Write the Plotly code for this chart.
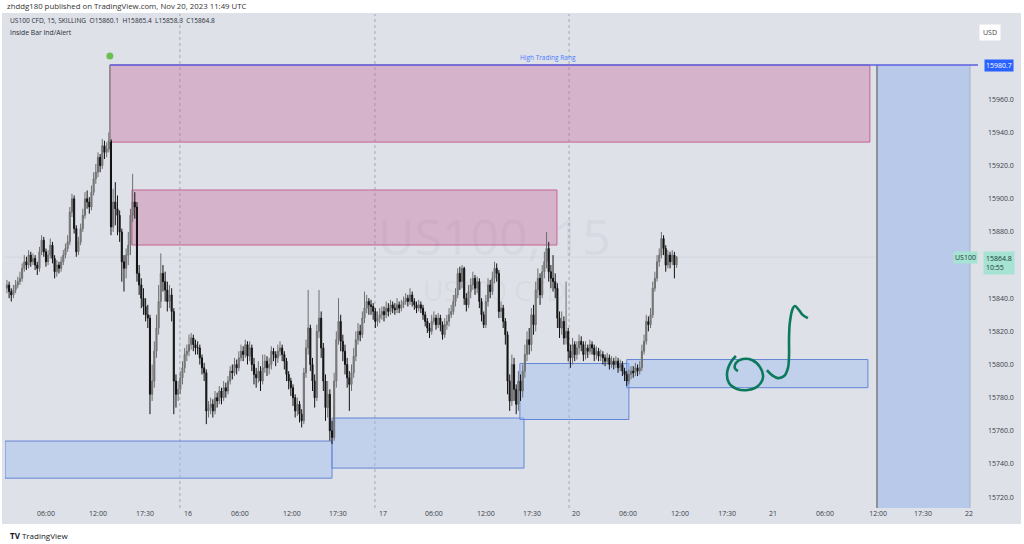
import plotly.graph_objects as go

# ---------------- data (15-min US100 CFD bars, Nov 15 -> Nov 20 2023) ----------------
first_open = 15846
closes = [
    15848, 15844, 15842, 15845, 15848, 15850, 15852, 15858, 15862, 15860,
    15866, 15862, 15864, 15860, 15858, 15868, 15875, 15868, 15862, 15866,
    15872, 15864, 15856, 15860, 15858, 15862, 15866, 15870, 15874, 15892,
    15900, 15882, 15868, 15874, 15882, 15890, 15900, 15898, 15895, 15904,
    15912, 15916, 15925, 15920, 15932, 15928, 15930, 15935, 15883, 15898,
    15894, 15890, 15880, 15862, 15858, 15866, 15872, 15890, 15898, 15895,
    15855, 15848, 15840, 15835, 15830, 15828, 15782, 15790, 15808, 15822,
    15838, 15855, 15850, 15845, 15838, 15842, 15832, 15790, 15782, 15785,
    15792, 15798, 15806, 15808, 15812, 15816, 15812, 15810, 15810, 15804,
    15798, 15795, 15772, 15774, 15776, 15772, 15780, 15778, 15784, 15780,
    15786, 15784, 15790, 15796, 15795, 15800, 15798, 15804, 15808, 15806,
    15812, 15805, 15810, 15800, 15794, 15792, 15796, 15790, 15798, 15802,
    15798, 15800, 15808, 15806, 15804, 15808, 15810, 15806, 15802, 15794,
    15790, 15786, 15780, 15772, 15776, 15770, 15766, 15795, 15810, 15822,
    15800, 15790, 15780, 15820, 15828, 15810, 15790, 15774, 15782, 15760,
    15756, 15790, 15815, 15826, 15814, 15808, 15800, 15792, 15788, 15795,
    15805, 15815, 15820, 15818, 15828, 15834, 15838, 15836, 15835, 15832,
    15826, 15828, 15830, 15832, 15830, 15834, 15832, 15836, 15834, 15833,
    15836, 15834, 15836, 15838, 15840, 15838, 15842, 15838, 15836, 15834,
    15836, 15834, 15830, 15826, 15822, 15820, 15826, 15828, 15824, 15828,
    15824, 15818, 15824, 15826, 15830, 15832, 15838, 15842, 15855, 15850,
    15858, 15840, 15836, 15844, 15848, 15852, 15846, 15850, 15838, 15830,
    15824, 15838, 15848, 15844, 15852, 15858, 15855, 15832, 15834, 15826,
    15818, 15790, 15778, 15800, 15785, 15776, 15790, 15784, 15796, 15806,
    15815, 15812, 15830, 15824, 15845, 15852, 15842, 15856, 15862, 15870,
    15856, 15852, 15850, 15846, 15828, 15822, 15826, 15816, 15820, 15808,
    15804, 15812, 15806, 15810, 15814, 15812, 15806, 15810, 15808, 15812,
    15810, 15806, 15808, 15805, 15806, 15804, 15802, 15804, 15800, 15802,
    15800, 15802, 15798, 15800, 15796, 15794, 15790, 15794, 15796, 15795,
    15798, 15796, 15798, 15808, 15814, 15826, 15824, 15830, 15846, 15852,
    15862, 15866, 15876, 15870, 15860, 15866, 15862, 15866, 15860.1, 15864.8,
]
highs = [
    15851, 15850, 15846, 15848, 15851, 15853, 15856, 15861, 15866, 15865,
    15869, 15868, 15867, 15866, 15862, 15871, 15878, 15877, 15870, 15869,
    15876, 15874, 15866, 15863, 15862, 15865, 15869, 15873, 15878, 15895,
    15903, 15902, 15884, 15877, 15885, 15894, 15904, 15905, 15901, 15908,
    15916, 15921, 15928, 15927, 15936, 15935, 15934, 15940, 15936, 15906,
    15910, 15902, 15893, 15882, 15866, 15870, 15880, 15894, 15915, 15904,
    15898, 15860, 15852, 15846, 15840, 15836, 15830, 15800, 15814, 15830,
    15848, 15867, 15860, 15856, 15850, 15848, 15846, 15834, 15794, 15790,
    15796, 15802, 15810, 15812, 15818, 15819, 15818, 15815, 15814, 15812,
    15806, 15801, 15797, 15778, 15780, 15779, 15784, 15783, 15787, 15786,
    15790, 15789, 15793, 15799, 15800, 15804, 15803, 15808, 15812, 15811,
    15815, 15814, 15814, 15812, 15804, 15798, 15802, 15799, 15806, 15806,
    15805, 15804, 15811, 15810, 15808, 15812, 15814, 15812, 15808, 15804,
    15796, 15792, 15788, 15782, 15780, 15778, 15773, 15798, 15815, 15845,
    15824, 15804, 15794, 15824, 15845, 15832, 15813, 15794, 15790, 15785,
    15766, 15795, 15820, 15840, 15830, 15818, 15812, 15804, 15796, 15800,
    15810, 15820, 15825, 15824, 15832, 15844, 15842, 15840, 15839, 15837,
    15834, 15832, 15834, 15835, 15835, 15838, 15837, 15839, 15838, 15837,
    15840, 15838, 15839, 15841, 15843, 15842, 15846, 15844, 15840, 15838,
    15839, 15838, 15836, 15832, 15828, 15825, 15830, 15832, 15830, 15831,
    15830, 15826, 15828, 15830, 15834, 15836, 15842, 15846, 15858, 15859,
    15860, 15859, 15843, 15848, 15852, 15856, 15854, 15853, 15852, 15840,
    15832, 15842, 15852, 15851, 15856, 15862, 15861, 15857, 15838, 15836,
    15828, 15820, 15794, 15806, 15804, 15788, 15796, 15794, 15800, 15812,
    15820, 15822, 15834, 15836, 15850, 15858, 15855, 15860, 15868, 15880,
    15874, 15860, 15866, 15855, 15849, 15832, 15832, 15829, 15850, 15822,
    15812, 15816, 15814, 15814, 15818, 15817, 15814, 15814, 15812, 15815,
    15814, 15812, 15811, 15810, 15809, 15808, 15806, 15807, 15806, 15805,
    15804, 15805, 15804, 15803, 15802, 15798, 15796, 15797, 15799, 15799,
    15801, 15800, 15802, 15812, 15818, 15830, 15829, 15834, 15850, 15856,
    15866, 15870, 15880, 15878, 15872, 15869, 15868, 15869, 15868, 15865.4,
]
lows = [
    15843, 15840, 15838, 15840, 15843, 15846, 15848, 15850, 15856, 15857,
    15858, 15859, 15860, 15857, 15854, 15856, 15866, 15865, 15859, 15860,
    15864, 15861, 15852, 15853, 15855, 15856, 15860, 15864, 15868, 15872,
    15889, 15879, 15865, 15866, 15872, 15880, 15888, 15894, 15891, 15893,
    15902, 15909, 15913, 15916, 15918, 15924, 15925, 15928, 15878, 15880,
    15884, 15878, 15874, 15850, 15844, 15852, 15860, 15866, 15886, 15888,
    15850, 15842, 15834, 15830, 15826, 15822, 15770, 15778, 15786, 15804,
    15818, 15834, 15844, 15838, 15832, 15834, 15826, 15770, 15774, 15778,
    15782, 15788, 15795, 15802, 15805, 15809, 15808, 15806, 15806, 15800,
    15794, 15790, 15764, 15768, 15770, 15768, 15770, 15774, 15776, 15776,
    15778, 15780, 15782, 15788, 15791, 15793, 15794, 15796, 15802, 15802,
    15804, 15800, 15802, 15796, 15788, 15786, 15789, 15784, 15788, 15795,
    15793, 15794, 15797, 15802, 15799, 15801, 15805, 15802, 15797, 15790,
    15785, 15781, 15775, 15768, 15769, 15765, 15762, 15764, 15792, 15806,
    15796, 15784, 15774, 15778, 15816, 15804, 15784, 15766, 15768, 15754,
    15752, 15754, 15786, 15812, 15808, 15802, 15794, 15786, 15772, 15784,
    15792, 15802, 15812, 15814, 15816, 15825, 15831, 15830, 15830, 15827,
    15822, 15823, 15825, 15827, 15826, 15828, 15829, 15830, 15831, 15830,
    15831, 15831, 15832, 15834, 15836, 15835, 15836, 15835, 15833, 15831,
    15832, 15831, 15827, 15823, 15819, 15816, 15818, 15824, 15821, 15822,
    15820, 15815, 15816, 15821, 15823, 15828, 15830, 15835, 15840, 15845,
    15846, 15836, 15832, 15834, 15840, 15845, 15842, 15843, 15834, 15826,
    15822, 15822, 15835, 15840, 15842, 15849, 15850, 15828, 15828, 15822,
    15812, 15782, 15772, 15775, 15778, 15770, 15772, 15778, 15780, 15792,
    15802, 15806, 15808, 15818, 15820, 15840, 15836, 15840, 15852, 15858,
    15850, 15846, 15844, 15840, 15822, 15816, 15818, 15812, 15812, 15802,
    15798, 15800, 15802, 15803, 15806, 15808, 15802, 15803, 15804, 15806,
    15806, 15802, 15803, 15802, 15802, 15800, 15799, 15800, 15797, 15798,
    15797, 15798, 15795, 15796, 15793, 15790, 15787, 15788, 15791, 15792,
    15793, 15793, 15794, 15796, 15806, 15812, 15820, 15822, 15828, 15844,
    15850, 15859, 15864, 15866, 15856, 15858, 15858, 15860, 15852, 15858.3,
]
opens = [first_open] + closes[:-1]
bar_index = list(range(len(closes)))

# time axis (bar-index positions of the labels)
time_tick_pos = [18, 42, 63.7, 83.5, 107.5, 131.5, 152.7, 173.5, 197, 221,
                 242.3, 262.6, 286.6, 310.6, 332.3, 353.5, 377.5, 402, 422.7, 444]
time_tick_text = ["06:00", "12:00", "17:30", "16", "06:00", "12:00", "17:30", "17",
                  "06:00", "12:00", "17:30", "20", "06:00", "12:00", "17:30", "21",
                  "06:00", "12:00", "17:30", "22"]
session_breaks = [79.8, 169.8, 259.4]
price_ticks = [15720, 15740, 15760, 15780, 15800, 15820, 15840,
               15880, 15900, 15920, 15940, 15960]

# drawn zones: (x0, x1, y0, y1) in bar index / price
supply_zones = [(47.5, 398.2, 15934.2, 15980.7),
                (57.7, 253.8, 15872.1, 15905.3)]
demand_zones = [(-0.9, 150.0, 15731.4, 15753.8),
                (150.0, 238.6, 15737.5, 15767.7),
                (236.7, 287.0, 15766.8, 15800.6),
                (286.0, 397.3, 15786.0, 15803.0)]
projection_zone = (401.5, 444.4, 15690.0, 15980.7)
high_range_level = 15980.7
high_range_start = 47.5
signal_dot = (47.5, 15986.1)
last_price = 15864.8

# hand-drawn green sketch (bar index, price)
loop_x = [336.4, 334.1, 332.3, 333.2, 336.9, 341.9, 346.6, 348.9, 347.5, 343.8, 339.6, 336.4, 335.9, 337.3]
loop_y = [15805.1, 15801.5, 15794.8, 15788.8, 15785.2, 15784.6, 15787.0, 15792.4, 15798.4, 15802.7, 15803.3, 15800.9, 15797.8, 15796.0]
hook_x = [350.7, 353.0, 355.8, 358.6, 360.4, 360.9, 360.9, 361.3, 362.7, 363.6, 365.5, 367.3, 369.6]
hook_y = [15796.6, 15793.6, 15791.8, 15793.0, 15797.8, 15805.7, 15815.9, 15825.6, 15834.0, 15835.3, 15832.8, 15829.8, 15828.0]

# ---------------- figure ----------------
W, H = 1024, 544
ML, MR, MT, MB = 5, 46, 14, 36
PANE = "#dee1e8"
XR = [-0.9, 448.1]
YR = [15713.4, 16011.5]


def px(xp):
    return (xp - ML) / (W - ML - MR)


def py(yp):
    return (H - MB - yp) / (H - MT - MB)


fig = go.Figure()
fig.add_trace(go.Candlestick(
    x=bar_index, open=opens, high=highs, low=lows, close=closes,
    increasing=dict(line=dict(color="#6f6f6f", width=1), fillcolor="#8e8e8e"),
    decreasing=dict(line=dict(color="#121212", width=1), fillcolor="#121212"),
    whiskerwidth=0, hoverinfo="skip", showlegend=False,
))
fig.add_trace(go.Scatter(x=loop_x, y=loop_y, mode="lines",
                         line=dict(color="#0b7a5c", width=2.6, shape="spline"),
                         hoverinfo="skip", showlegend=False))
fig.add_trace(go.Scatter(x=hook_x, y=hook_y, mode="lines",
                         line=dict(color="#0b7a5c", width=2.6, shape="spline"),
                         hoverinfo="skip", showlegend=False))
fig.add_trace(go.Scatter(x=[signal_dot[0]], y=[signal_dot[1]], mode="markers",
                         marker=dict(color="#6cbf52", size=7),
                         hoverinfo="skip", showlegend=False, cliponaxis=False))

shapes = []
# panel background
shapes.append(dict(type="rect", xref="paper", yref="paper", x0=px(2), x1=px(1021),
                   y0=py(524), y1=py(13), fillcolor=PANE, line=dict(width=0), layer="below"))
for xb in session_breaks:
    shapes.append(dict(type="line", xref="x", yref="paper", x0=xb, x1=xb, y0=0, y1=1,
                       line=dict(color="#a3a7b0", width=1, dash="3px,3px"), layer="below"))
# current price faint line
shapes.append(dict(type="line", xref="paper", yref="y", x0=0, x1=1, y0=last_price, y1=last_price,
                   line=dict(color="rgba(90,100,120,0.08)", width=1), layer="below"))
for (x0, x1, y0, y1) in supply_zones:
    shapes.append(dict(type="rect", x0=x0, x1=x1, y0=y0, y1=y1,
                       fillcolor="rgba(200,110,160,0.40)",
                       line=dict(color="#c4638f", width=1), layer="below"))
for (x0, x1, y0, y1) in demand_zones:
    shapes.append(dict(type="rect", x0=x0, x1=x1, y0=y0, y1=y1,
                       fillcolor="rgba(160,190,240,0.45)",
                       line=dict(color="#6486d6", width=1), layer="below"))
px0, px1, py0, py1 = projection_zone
shapes.append(dict(type="rect", x0=px0, x1=px1, y0=py0, y1=py1,
                   fillcolor="#b9c9ea", line=dict(width=0), layer="below"))
shapes.append(dict(type="line", x0=px1, x1=px1, y0=py0, y1=py1,
                   line=dict(color="#a6b0c4", width=1)))
shapes.append(dict(type="line", x0=px0, x1=px0, y0=py0, y1=py1,
                   line=dict(color="#8b909b", width=2)))
# left edge of top range box
shapes.append(dict(type="line", x0=high_range_start, x1=high_range_start,
                   y0=supply_zones[0][2], y1=high_range_level,
                   line=dict(color="#8a8a8a", width=1.5)))
# high trading range line
shapes.append(dict(type="line", xref="x", yref="y", x0=high_range_start, x1=XR[1],
                   y0=high_range_level, y1=high_range_level,
                   line=dict(color="#5d5fe0", width=1.5)))

TXT = "#2a2e39"
FONT = "Open Sans"
ann = []
ann.append(dict(xref="paper", yref="paper", x=px(5), y=py(6), xanchor="left", yanchor="middle",
                text="zhddg180 published on TradingView.com, Nov 20, 2023 11:49 UTC",
                showarrow=False, font=dict(size=7.8, color="#333", family=FONT)))
ann.append(dict(xref="paper", yref="paper", x=px(8), y=py(21), xanchor="left", yanchor="middle",
                text="US100 CFD, 15, SKILLING  O15860.1  H15865.4  L15858.3  C15864.8",
                showarrow=False, font=dict(size=6.6, color=TXT, family=FONT)))
ann.append(dict(xref="paper", yref="paper", x=px(8), y=py(33), xanchor="left", yanchor="middle",
                text="Inside Bar Ind/Alert", showarrow=False,
                font=dict(size=6.8, color=TXT, family=FONT)))
# watermark
ann.append(dict(xref="x", yref="y", x=225, y=15877.5, text="US100, 15", showarrow=False,
                font=dict(size=50, color="rgba(110,115,135,0.07)", family=FONT)))
ann.append(dict(xref="x", yref="y", x=225, y=15845, text="US100 CFD", showarrow=False,
                font=dict(size=28, color="rgba(110,115,135,0.07)", family=FONT)))
ann.append(dict(xref="x", yref="y", x=249.6, y=high_range_level, yanchor="bottom", yshift=1,
                text="High Trading Rang", showarrow=False,
                font=dict(size=6.5, color="#4a7cff", family=FONT)))
# price scale labels
ann.append(dict(xref="paper", yref="y", x=px(984), y=high_range_level, xanchor="left",
                text="15980.7", showarrow=False, bgcolor="#2962ff", borderpad=1,
                font=dict(size=7, color="white", family=FONT)))
ann.append(dict(xref="paper", yref="y", x=px(983), y=last_price, xanchor="left", yanchor="top",
                yshift=6, text="15864.8<br>10:55", align="left", showarrow=False,
                bgcolor="#a6e3d2", borderpad=2,
                font=dict(size=7, color="#173a32", family=FONT)))
ann.append(dict(xref="paper", yref="y", x=px(978), y=last_price, xanchor="right",
                text="US100", showarrow=False, bgcolor="#a6e3d2", borderpad=1,
                font=dict(size=7, color="#173a32", family=FONT)))
ann.append(dict(xref="paper", yref="paper", x=px(1001), y=py(24), text="USD", showarrow=False,
                bgcolor="white", borderpad=3, font=dict(size=7, color="#444", family=FONT)))
ann.append(dict(xref="paper", yref="paper", x=px(8), y=py(535), xanchor="left", yanchor="middle",
                text="<b>TV</b> TradingView", showarrow=False,
                font=dict(size=8, color="#131722", family=FONT)))

fig.update_layout(
    width=W, height=H, margin=dict(l=ML, r=MR, t=MT, b=MB),
    paper_bgcolor="white", plot_bgcolor=PANE,
    shapes=shapes, annotations=ann, showlegend=False,
    xaxis=dict(range=XR, tickmode="array", tickvals=time_tick_pos, ticktext=time_tick_text,
               showgrid=False, zeroline=False, showline=False, ticks="",
               tickfont=dict(size=7, color="#3a3e48", family=FONT),
               rangeslider=dict(visible=False), fixedrange=True),
    yaxis=dict(range=YR, side="right", tickmode="array", tickvals=price_ticks,
               tickformat=".1f", showgrid=False, zeroline=False, showline=False, ticks="",
               ticklabelstandoff=9,
               tickfont=dict(size=7, color="#3a3e48", family=FONT), fixedrange=True),
)

fig.write_html("out.html")
